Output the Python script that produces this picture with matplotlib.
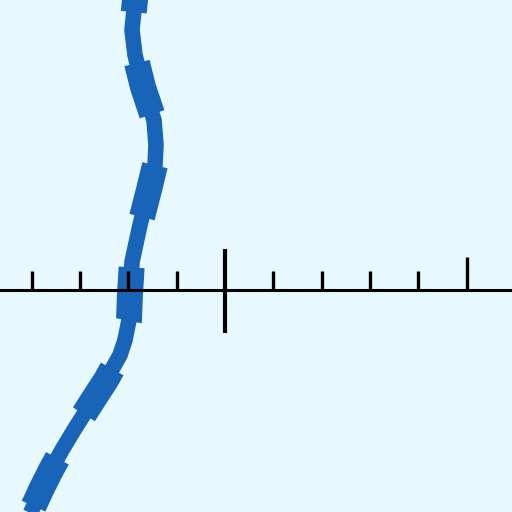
import matplotlib
matplotlib.use("Agg")
import matplotlib.pyplot as plt

plt.rcParams['lines.scale_dashes'] = False

# Curve points (tick spacing = 1 unit, origin at the tall centre tick)
curve_x = [-1.842, -1.862, -1.924, -1.862, -1.697, -1.469, -1.428, -1.448,
           -1.573, -1.759, -1.924, -1.966, -1.986, -2.069, -2.172, -2.462,
           -2.731, -3.124, -3.373, -3.600, -3.807, -4.138]
curve_y = [6.311, 6.000, 5.380, 4.862, 4.200, 3.518, 3.000, 2.586,
           2.069, 1.345, 0.579, -0.083, -0.621, -1.035, -1.345, -1.862,
           -2.276, -2.897, -3.311, -3.724, -4.138, -4.862]

minor_ticks = [-4, -3, -2, -1, 1, 2, 3, 4]
minor_height = 0.40
major_ticks = [5]
major_height = 0.68
origin_tick = [0]
origin_top, origin_bottom = 0.85, -0.89

bg = '#e8f9fd'
blue = '#1764b9'

fig = plt.figure(figsize=(5.12, 5.12), dpi=100, facecolor=bg)
ax = fig.add_axes([0, 0, 1, 1], facecolor=bg)
ax.set_xlim(-4.655, 5.938)
ax.set_ylim(-4.593, 6.0)
ax.axis('off')

# solid line + wider dashed line on same path
ax.plot(curve_x, curve_y, color=blue, lw=11.2, solid_joinstyle='round',
        solid_capstyle='butt', zorder=2)
ax.plot(curve_x, curve_y, color=blue, lw=18.7, ls=(29.0, (38.5, 37.0)),
        dash_capstyle='butt', dash_joinstyle='round', zorder=2)

ax.axhline(0, color='black', lw=2.2, zorder=3)
ax.vlines(minor_ticks, 0, minor_height, color='black', lw=2.4, zorder=3)
ax.vlines(major_ticks, 0, major_height, color='black', lw=2.4, zorder=3)
ax.vlines(origin_tick, origin_bottom, origin_top, color='black', lw=3.0, zorder=3)

fig.savefig('out.png', dpi=100, facecolor=bg)
